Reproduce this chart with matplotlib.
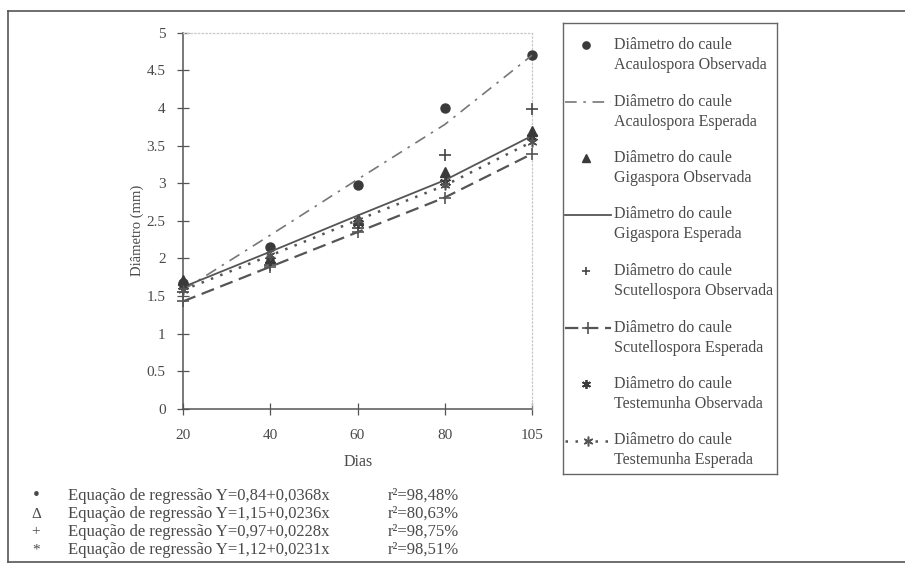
import matplotlib
matplotlib.use("Agg")
import matplotlib.pyplot as plt
from matplotlib.lines import Line2D

plt.rcParams['font.family'] = ['Liberation Serif', 'DejaVu Serif']

# ---- data -------------------------------------------------------------
dias = ["20", "40", "60", "80", "105"]
y_ticks = [0, 0.5, 1, 1.5, 2, 2.5, 3, 3.5, 4, 4.5, 5]
y_tick_labels = ["0", "0.5", "1", "1.5", "2", "2.5", "3", "3.5", "4", "4.5", "5"]

acaulo_obs = [1.67, 2.15, 2.98, 4.00, 4.70]
acaulo_esp = [1.58, 2.31, 3.05, 3.78, 4.70]
giga_obs = [1.72, 2.01, 2.53, 3.15, 3.70]
giga_esp = [1.62, 2.09, 2.57, 3.04, 3.63]
scut_obs = [1.55, 1.91, 2.40, 3.37, 3.98]
scut_esp = [1.43, 1.89, 2.35, 2.81, 3.39]
test_obs = [1.63, 1.98, 2.47, 3.01, 3.62]
test_esp = [1.58, 2.04, 2.51, 2.97, 3.55]

legend_first = "Diâmetro do caule"
legend_second = [
    "Acaulospora Observada", "Acaulospora Esperada",
    "Gigaspora Observada", "Gigaspora Esperada",
    "Scutellospora Observada", "Scutellospora Esperada",
    "Testemunha Observada", "Testemunha Esperada",
]

eq_symbols = ["•", "Δ", "+", "*"]
equations = [
    "Equação de regressão Y=0,84+0,0368x",
    "Equação de regressão Y=1,15+0,0236x",
    "Equação de regressão Y=0,97+0,0228x",
    "Equação de regressão Y=1,12+0,0231x",
]
r2_values = ["r²=98,48%", "r²=80,63%", "r²=98,75%", "r²=98,51%"]

# ---- styles -----------------------------------------------------------
TXT = "#4a4a4a"
DARK = "#3a3a3a"
STAR = (6, 2, 0)

series = [
    dict(y=acaulo_obs, ls="none", marker="o", ms=6.5, color=DARK),
    dict(y=acaulo_esp, ls=(0, (7, 4, 1.5, 4)), lw=1.2, marker=None, color="#777777"),
    dict(y=giga_obs, ls="none", marker="^", ms=7.5, color=DARK),
    dict(y=giga_esp, ls="-", lw=1.3, marker=None, color="#555555"),
    dict(y=scut_obs, ls="none", marker="+", ms=8, mew=1.2, color="#444444"),
    dict(y=scut_esp, ls=(0, (6, 3)), lw=1.6, marker="+", ms=8, mew=1.2, color="#555555"),
    dict(y=test_obs, ls="none", marker=STAR, ms=8, mew=1.3, color=DARK),
    dict(y=test_esp, ls=(0, (1, 3)), lw=1.8, marker=STAR, ms=7, mew=1.1, color="#555555"),
]

W, H = 905, 570
fig = plt.figure(figsize=(W / 100, H / 100), dpi=100)


def fx(px):
    return px / W


def fy(py):
    return 1 - py / H


# ---- main plot --------------------------------------------------------
ax = fig.add_axes([fx(183), fy(409), fx(532 - 183), (409 - 32.7) / H])
xs = list(range(len(dias)))
for s in series:
    ax.plot(xs, s["y"], linestyle=s["ls"], linewidth=s.get("lw", 1.0),
            marker=s["marker"], markersize=s.get("ms", 6),
            markeredgewidth=s.get("mew", 1.0), color=s["color"],
            clip_on=False, zorder=3)

ax.set_xlim(0, len(dias) - 1)
ax.set_ylim(0, 5)
ax.set_xticks(xs)
ax.set_xticklabels(dias)
ax.set_yticks(y_ticks)
ax.set_yticklabels(y_tick_labels)
ax.tick_params(axis="both", direction="inout", length=9, width=0.9,
               color="#555555", labelcolor=TXT, labelsize=11)
ax.tick_params(axis="x", pad=10)
ax.tick_params(axis="y", pad=8)
for side in ("left", "bottom"):
    ax.spines[side].set_color("#555555")
    ax.spines[side].set_linewidth(1.1)
for side in ("top", "right"):
    ax.spines[side].set_color("#c8c8c8")
    ax.spines[side].set_linewidth(0.9)
    ax.spines[side].set_linestyle((0, (1, 2)))

fig.text(fx(358), fy(462), "Dias", ha="center", va="center", fontsize=11.5, color=TXT)
fig.text(fx(137), fy(230), "Diâmetro (mm)", ha="center", va="center",
         rotation=90, fontsize=10.5, color=TXT)

# ---- legend panel -----------------------------------------------------
lax = fig.add_axes([fx(563), fy(474), fx(777 - 563), (474 - 23) / H])
lax.set_xlim(563, 777)
lax.set_ylim(474, 23)
lax.set_xticks([])
lax.set_yticks([])
for sp in lax.spines.values():
    sp.set_color("#666666")
    sp.set_linewidth(1.0)

for i, s in enumerate(series):
    y0 = 45 + i * 56.5
    if s["ls"] == "none":
        lax.add_line(Line2D([586], [y0], linestyle="none", marker=s["marker"],
                            markersize=s.get("ms", 6) * 0.8,
                            markeredgewidth=s.get("mew", 1.0), color=s["color"]))
    else:
        lax.add_line(Line2D([565, 611], [y0, y0], linestyle=s["ls"],
                            linewidth=s.get("lw", 1.0), color=s["color"]))
        if s["marker"] is not None:
            lax.add_line(Line2D([588], [y0], linestyle="none", marker=s["marker"],
                                markersize=s.get("ms", 6),
                                markeredgewidth=s.get("mew", 1.0), color=s["color"]))
    lax.text(614, y0, legend_first, ha="left", va="center", fontsize=11.5, color=TXT)
    lax.text(614, y0 + 20, legend_second[i], ha="left", va="center", fontsize=11.5, color=TXT)

# ---- regression equations ---------------------------------------------
for i, (sym, eq, r2) in enumerate(zip(eq_symbols, equations, r2_values)):
    yy = 496 + i * 18
    fig.text(fx(36), fy(yy), sym, ha="center", va="center",
             fontsize=14 if sym == "•" else 11, color=TXT)
    fig.text(fx(68), fy(yy), eq, ha="left", va="center", fontsize=12, color=TXT)
    fig.text(fx(388), fy(yy), r2, ha="left", va="center", fontsize=12, color=TXT)

# ---- outer frame ------------------------------------------------------
frame_kw = dict(transform=fig.transFigure, color="#555555", linewidth=1.2)
fig.add_artist(Line2D([fx(8), 1.0], [fy(11), fy(11)], **frame_kw))
fig.add_artist(Line2D([fx(8), fx(8)], [fy(11), fy(562)], **frame_kw))
fig.add_artist(Line2D([fx(8), 1.0], [fy(562), fy(562)], **frame_kw))

fig.savefig("out.png", dpi=100, facecolor="white")
